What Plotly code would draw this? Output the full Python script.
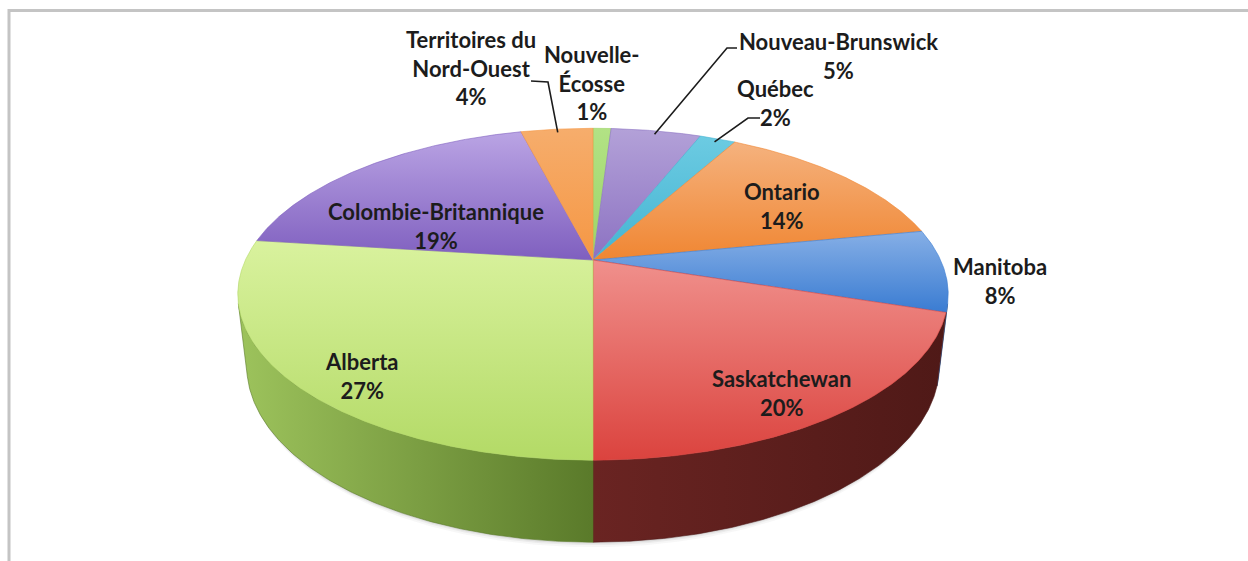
import numpy as np
import plotly.graph_objects as go

# Provinces / territories, clockwise from 12 o'clock
provinces = ["Nouvelle-Écosse", "Nouveau-Brunswick", "Québec", "Ontario", "Manitoba",
             "Saskatchewan", "Alberta", "Colombie-Britannique", "Territoires du Nord-Ouest"]
shares = [1, 5, 2, 14, 8, 20, 27, 19, 4]
label_names = ["Nouvelle-<br>Écosse", "Nouveau-Brunswick", "Québec", "Ontario", "Manitoba",
               "Saskatchewan", "Alberta", "Colombie-Britannique", "Territoires du<br>Nord-Ouest"]

# top-face gradient (light -> dark) and side-wall gradient (left -> right)
top_light = ["#b2e285", "#b3a1d8", "#6ccbe2", "#f5b27e", "#86afe6", "#f0908c", "#d9f29e", "#baa4e4", "#f6ad6c"]
top_dark = ["#9cd466", "#8c72c2", "#45b4d2", "#f08632", "#3a7cd2", "#db433e", "#b3da66", "#7f5fbf", "#f59744"]
side_left = ["#6e9a3e", "#5b4585", "#2d7f96", "#b8601c", "#2b5597", "#6a2422", "#9dc35c", "#5a438a", "#b9661f"]
side_right = ["#56782a", "#45336a", "#226577", "#8f4914", "#22467d", "#4f1917", "#5a7a2a", "#44316b", "#8f4c14"]

# camera / layout of the 3-D disc (screen pixels)
CX, CY = 593.0, 260.0          # where the pie centre lands on screen
K = 1498.0                     # focal scale
DIST = 4.31                    # camera distance in radii
TILT = np.radians(27.2)        # camera elevation
THICK = 0.233                  # disc thickness in radii
S, C = np.sin(TILT), np.cos(TILT)


def project(theta_deg, r=1.0, h=0.0):
    """Project a point of the disc (angle clockwise from top, radius, height) to screen."""
    th = np.radians(theta_deg)
    X, Z = r * np.sin(th), r * np.cos(th)
    depth = DIST + C * Z - S * h
    sx = CX + K * X / depth
    sy = CY - K * (C * h + S * Z) / depth
    return sx, sy


bounds = np.concatenate([[0], np.cumsum(shares)]) / sum(shares) * 360.0
theta_vis = np.degrees(np.arccos(-1.0 / (DIST * C)))   # silhouette of the side wall

fig = go.Figure()

# soft drop shadow along the lower outline of the disc
lo = np.linspace(theta_vis - 8, 360 - theta_vis + 8, 200)
for off, alpha in [(5, 0.05), (3, 0.07), (1.5, 0.10)]:
    lx, ly = project(lo, 1.0, -THICK)
    ux, uy = project(lo[::-1], 1.0, 0.0)
    px = np.concatenate([lx - off * np.sin(np.radians(lo)) * 0.6, ux])
    py = np.concatenate([ly + off, uy])
    fig.add_trace(go.Scatter(x=px, y=py, mode="lines", fill="toself",
                             fillcolor=f"rgba(90,90,90,{alpha})", line=dict(width=0),
                             hoverinfo="skip", showlegend=False))

# side walls of the front half
for i, (a0, a1) in enumerate(zip(bounds[:-1], bounds[1:])):
    lo_, hi_ = max(a0, theta_vis), min(a1, 360 - theta_vis)
    if hi_ <= lo_:
        continue
    ang = np.linspace(lo_, hi_, max(8, int((hi_ - lo_) * 2)))
    tx, ty = project(ang, 1.0, 0.0)
    bx, by = project(ang[::-1], 1.0, -THICK)
    fig.add_trace(go.Scatter(
        x=np.concatenate([tx, bx, tx[:1]]), y=np.concatenate([ty, by, ty[:1]]),
        mode="lines", fill="toself", line=dict(width=0.6, color=side_right[i]),
        fillgradient=dict(type="horizontal",
                          colorscale=[[0, side_left[i]], [1, side_right[i]]]),
        hoverinfo="skip", showlegend=False))

# top faces
for i, (a0, a1) in enumerate(zip(bounds[:-1], bounds[1:])):
    ang = np.linspace(a0, a1, max(6, int((a1 - a0) * 3)))
    rx, ry = project(ang, 1.0, 0.0)
    ox, oy = project(0.0, 0.0, 0.0)
    fig.add_trace(go.Scatter(
        x=np.concatenate([[ox], rx, [ox]]), y=np.concatenate([[oy], ry, [oy]]),
        mode="lines", fill="toself", line=dict(width=0.6, color=top_dark[i]),
        fillgradient=dict(type="vertical",
                          colorscale=[[0, top_dark[i]], [1, top_light[i]]]),
        name=provinces[i], hovertemplate=f"{provinces[i]}: {shares[i]}%<extra></extra>",
        showlegend=False))

# data labels (centre of each label block, screen pixels)
label_pos = [(592, 83), (838, 56), (775, 103), (782, 206), (1000, 281),
             (781, 393), (362, 376), (436, 226), (471, 68)]
for name, v, (lx, ly) in zip(label_names, shares, label_pos):
    fig.add_annotation(x=lx, y=ly, text=f"<b>{name}<br>{v}%</b>", showarrow=False,
                       xanchor="center", yanchor="middle", align="center",
                       font=dict(family="Lato", size=22, color="#1c1c1c"))

# leader lines for the thin slices at the back
leaders = {8: [(531, 81), (548, 82)], 1: [(737, 48), (727, 48)], 2: [(760, 118), (748, 118)]}
for i, pts in leaders.items():
    mid = (bounds[i] + bounds[i + 1]) / 2
    ex, ey = project(mid, 0.97, 0.0)
    xs = [p[0] for p in pts] + [ex]
    ys = [p[1] for p in pts] + [ey]
    fig.add_trace(go.Scatter(x=xs, y=ys, mode="lines", line=dict(color="#1c1c1c", width=1.6),
                             hoverinfo="skip", showlegend=False))

# chart-area frame (top and left edges)
fig.add_shape(type="line", x0=8, x1=1260, y0=10.5, y1=10.5, line=dict(color="#c4c4c4", width=3))
fig.add_shape(type="line", x0=9, x1=9, y0=9, y1=570, line=dict(color="#c4c4c4", width=3))

fig.update_layout(
    width=1248, height=561, margin=dict(l=0, r=0, t=0, b=0),
    paper_bgcolor="white", plot_bgcolor="white",
    xaxis=dict(range=[0, 1248], visible=False, fixedrange=True),
    yaxis=dict(range=[561, 0], visible=False, fixedrange=True),
    showlegend=False,
)

fig.write_html("out.html")
